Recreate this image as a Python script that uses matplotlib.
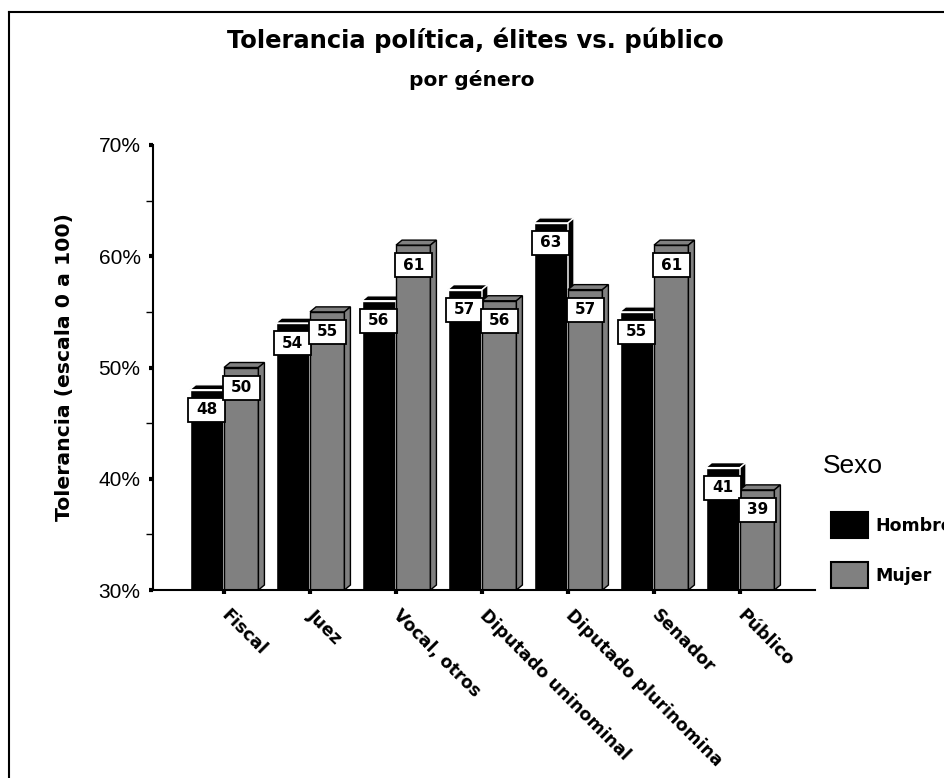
import matplotlib
matplotlib.use("Agg")
import matplotlib.pyplot as plt
from matplotlib.patches import Polygon, Rectangle
from matplotlib.lines import Line2D

categorias = ["Fiscal", "Juez", "Vocal, otros", "Diputado uninominal",
              "Diputado plurinomina", "Senador", "Público"]
hombre = [48, 54, 56, 57, 63, 55, 41]
mujer = [50, 55, 61, 56, 57, 61, 39]
series = ["Hombre", "Mujer"]
colores = ["#000000", "#808080"]
bordes = ["#ffffff", "#000000"]

W, H, DPI = 944, 778, 100
BOLD = "DejaVu Sans"
REG = "Liberation Sans"

fig = plt.figure(figsize=(W / DPI, H / DPI), dpi=DPI)
ax = fig.add_axes([153 / W, 1 - 590 / H, (815 - 153) / W, (590 - 145) / H])
ax.set_xlim(-0.826, 6.872)
ax.set_ylim(30, 70)

# pseudo-3D depth of each bar (86 px per category, 11.125 px per point)
ancho = 0.40
dx = 6 / 86
dy = 5 / 11.125


def barra(x0, v, fc, ec):
    base = ax.get_ylim()[0]
    kw = dict(fc=fc, ec=ec, lw=1.0, zorder=2)
    ax.add_patch(Rectangle((x0, base), ancho, v - base, **kw))
    ax.add_patch(Polygon([(x0, v), (x0 + dx, v + dy),
                          (x0 + ancho + dx, v + dy), (x0 + ancho, v)], **kw))
    ax.add_patch(Polygon([(x0 + ancho, base), (x0 + ancho + dx, base + dy),
                          (x0 + ancho + dx, v + dy), (x0 + ancho, v)], **kw))


def etiqueta(xc, v):
    alto = 24 / 11.125
    top = v - 8 / 11.125
    ax.add_patch(Rectangle((xc - 0.215, top - alto), 0.43, alto,
                           fc="white", ec="black", lw=1.3, zorder=4))
    ax.text(xc, top - alto / 2, f"{v:.0f}", ha="center", va="center",
            fontsize=11, fontweight="bold", family=BOLD, zorder=5)


for i, (h, m) in enumerate(zip(hombre, mujer)):
    for j, v in enumerate((h, m)):
        x0 = i - ancho + j * ancho
        barra(x0, v, colores[j], bordes[j])
    for j, v in enumerate((h, m)):
        x0 = i - ancho + j * ancho
        etiqueta(x0 + ancho / 2, v)

for s in ("top", "right"):
    ax.spines[s].set_visible(False)
for s in ("left", "bottom"):
    ax.spines[s].set_linewidth(1.5)
    ax.spines[s].set_zorder(6)

ax.set_yticks([30, 40, 50, 60, 70])
ax.set_yticklabels([f"{t}%" for t in (30, 40, 50, 60, 70)],
                   fontsize=15, family=REG)
ax.set_yticks([35, 45, 55, 65], minor=True)
ax.tick_params(axis="y", which="major", length=3, width=3, pad=6)
ax.tick_params(axis="y", which="minor", length=5, width=1)

ax.set_xticks(range(len(categorias)))
ax.set_xticklabels(categorias, rotation=-45, ha="left", va="center",
                   rotation_mode="anchor", fontsize=12.5,
                   fontweight="bold", family=BOLD)
ax.tick_params(axis="x", length=3, width=3, pad=13)

fig.text(475 / W, 1 - 48 / H, "Tolerancia política, élites vs. público",
         ha="center", va="baseline", fontsize=17.5, fontweight="bold", family=BOLD)
fig.text(472 / W, 1 - 86 / H, "por género", ha="center", va="baseline",
         fontsize=14.5, fontweight="bold", family=BOLD)
fig.text(65 / W, 1 - 367 / H, "Tolerancia (escala 0 a 100)", rotation=90,
         ha="center", va="center", fontsize=14.7, fontweight="bold", family=BOLD)

# legend
fig.text(823 / W, 1 - 466 / H, "Sexo", ha="left", va="center",
         fontsize=19, family=REG)
for k, (nombre, color) in enumerate(zip(series, colores)):
    ytop = 512 + k * 50
    fig.add_artist(Rectangle((831 / W, 1 - (ytop + 26) / H), 37 / W, 26 / H,
                             transform=fig.transFigure, fc=color, ec="black", lw=1.5))
    fig.text(875 / W, 1 - (ytop + 14) / H, nombre, ha="left", va="center",
             fontsize=12.5, fontweight="bold", family=BOLD)

# chart frame
fig.add_artist(Line2D([9 / W, 9 / W], [0, 1 - 12 / H], transform=fig.transFigure,
                      color="black", lw=1.5))
fig.add_artist(Line2D([9 / W, 1], [1 - 12 / H, 1 - 12 / H], transform=fig.transFigure,
                      color="black", lw=1.5))

fig.savefig("out.png", dpi=DPI)
